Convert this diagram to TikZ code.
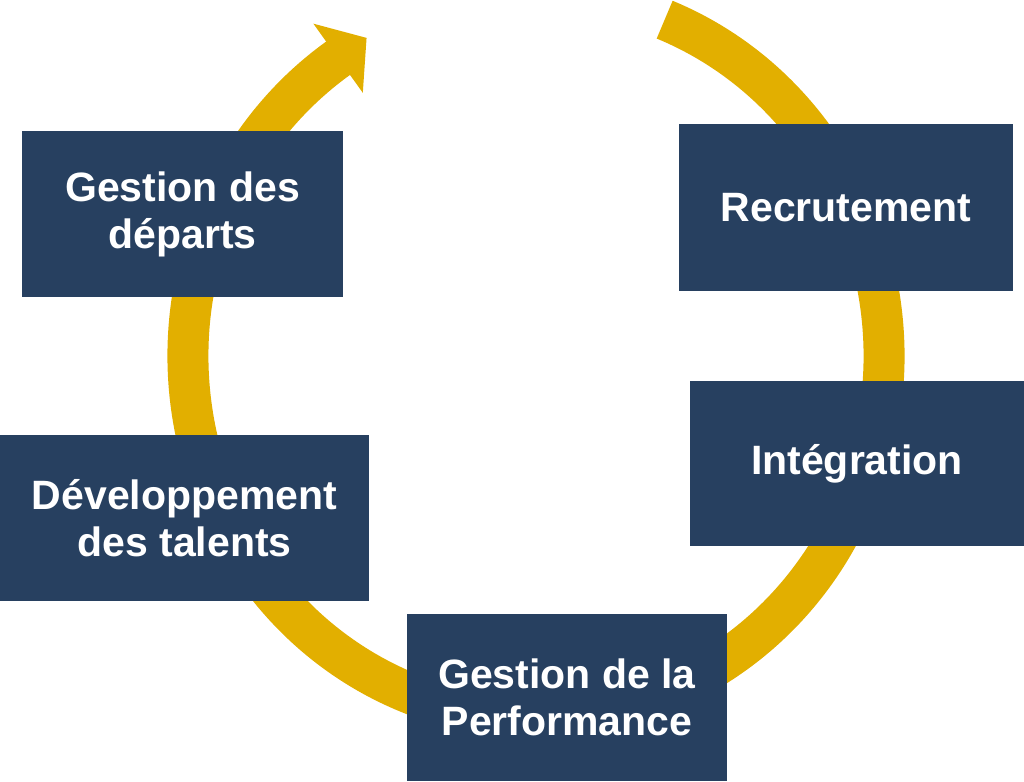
\documentclass[tikz,border=0pt]{standalone}
\usepackage{fontspec}
\setmainfont{Liberation Sans}
\definecolor{gold}{HTML}{E2AF00}
\definecolor{navy}{HTML}{274060}
\begin{document}
\begin{tikzpicture}[x=1pt,y=1pt,
  ring/.style={draw=gold, line width=41pt, line cap=butt},
  box/.style={fill=navy, draw=none, inner sep=0pt, text=white, align=center,
    font=\bfseries\fontsize{41}{47}\selectfont}]
\useasboundingbox (0,0) rectangle (1024,781);
\coordinate (C) at (536,425);
% cycle ring
\draw[ring] (C) ++(68.3:348 and 362) arc[start angle=68.3, end angle=-235.5, x radius=348, y radius=362];
\path (C) ++(124.5:348 and 362) coordinate (E);
\fill[gold, shift={(E)}, rotate=35.56] (-1,-42.5) -- (34,0) -- (-1,42.5) -- cycle;
% boxes
\node[box, minimum width=321pt, minimum height=166pt] (dep) at (182.5,567) {Gestion des\\départs};
\node[box, minimum width=369pt, minimum height=166pt] (dev) at (184.5,263) {Développement\\des talents};
\node[box, minimum width=334pt, minimum height=167pt] (rec) at (846,573.5) {Recrutement};
\node[box, minimum width=334pt, minimum height=165pt] (int) at (857,317.5) {Intégration};
\node[box, minimum width=320pt, minimum height=167pt] (perf) at (567,83.5) {Gestion de la\\Performance};
\end{tikzpicture}
\end{document}
